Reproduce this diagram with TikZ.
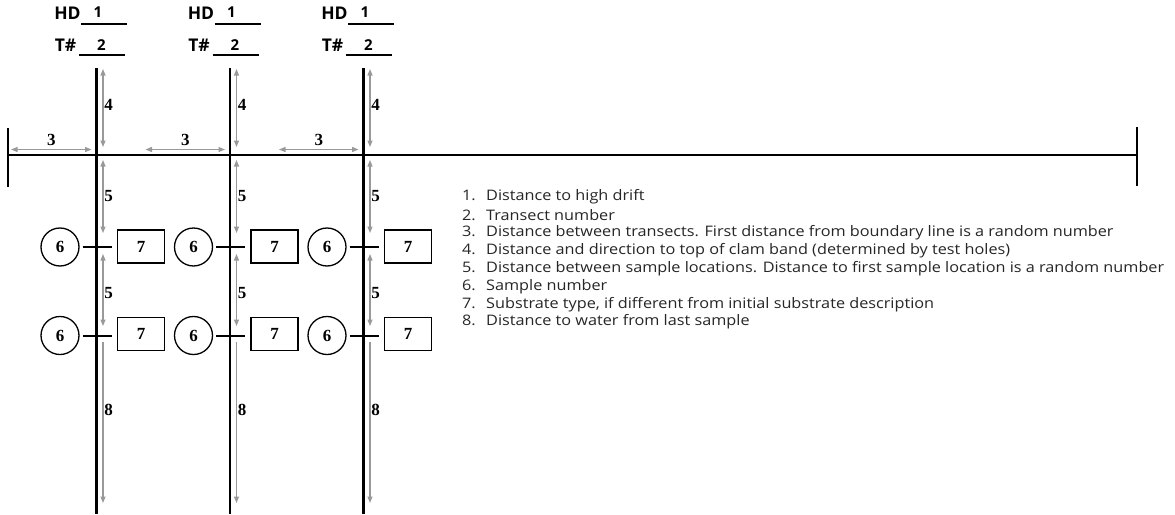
\documentclass[tikz,border=0pt]{standalone}
\usepackage{fontspec}
\setmainfont{Liberation Serif}
\newfontfamily\legendfont{Open Sans}[FakeStretch=1.12]
\newfontfamily\headfont{Open Sans}
\usetikzlibrary{arrows.meta,calc}

\tikzset{
  transect/.style={line width=2.4pt, black},
  baseline/.style={line width=2pt, black},
  dimline/.style={draw=black!40, line width=1.2pt},
  twoway/.style={dimline, {Triangle[width=5pt,length=6.5pt]}-{Triangle[width=5pt,length=6.5pt]}},
  oneway/.style={dimline, -{Triangle[width=5pt,length=6.5pt]}},
  numlbl/.style={inner sep=0pt, font=\bfseries\fontsize{17}{17}\selectfont},
  headlbl/.style={inner sep=0pt, font=\headfont\bfseries\fontsize{17.5}{17.5}\selectfont},
  headnum/.style={inner sep=0pt, font=\headfont\bfseries\fontsize{15}{15}\selectfont},
  blank/.style={line width=1.2pt},
  tick/.style={line width=2pt},
  sample/.style={circle, draw, line width=1.3pt, minimum size=38pt, inner sep=0pt,
                 font=\bfseries\fontsize{17}{17}\selectfont},
  substrate/.style={rectangle, draw, line width=1.3pt, minimum width=47pt, minimum height=33pt,
                    inner sep=0pt, font=\bfseries\fontsize{17}{17}\selectfont},
  legend/.style={anchor=west, inner sep=0pt, font=\legendfont\fontsize{14.5}{14.5}\selectfont,
                 text=black!85},
}

\begin{document}
\begin{tikzpicture}[x=1pt,y=-1pt]
\useasboundingbox (0,0) rectangle (1175,514);

% boundary line with its end marks
\coordinate (bl) at (8,155);
\coordinate (br) at (1137,155);
\coordinate (blt) at (8,128);
\coordinate (blb) at (8,187);
\coordinate (brt) at (1137,127);
\coordinate (brb) at (1137,186);
\draw[baseline] (bl) -- (br);
\draw[baseline] (blt) -- (blb);
\draw[baseline] (brt) -- (brb);

% transects (\p: position of the previous transect or boundary reference)
\foreach \i/\x/\p in {1/96.5/-38, 2/230/96.5, 3/363.5/230}{
  % header: high drift and transect number
  \node[headlbl] (hd\i) at (\x-29,13.5) {HD};
  \coordinate (hdl\i) at (\x-15.5,24);
  \coordinate (hdr\i) at (\x+30.5,24);
  \draw[blank] (hdl\i) -- (hdr\i);
  \node[headnum] (hdv\i) at (\x+1.5,12.5) {1};
  \node[headlbl] (tn\i) at (\x-31,45.5) {T\#};
  \coordinate (tnl\i) at (\x-17.5,55);
  \coordinate (tnr\i) at (\x+28.5,55);
  \draw[blank] (tnl\i) -- (tnr\i);
  \node[headnum] (tnv\i) at (\x+5,45) {2};

  % transect line
  \coordinate (top\i) at (\x,68);
  \coordinate (bot\i) at (\x,514);
  \draw[transect] (top\i) -- (bot\i);

  % distance between transects
  \coordinate (da\i) at (\p+49,149.5);
  \coordinate (db\i) at (\x-5,149.5);
  \draw[twoway] (da\i) -- (db\i);
  \node[numlbl] (l3\i) at ($(da\i)!0.5!(db\i)+(0,-9.5)$) {3};

  % distance to clam band
  \coordinate (a4\i) at (\x+6.5,69);
  \coordinate (b4\i) at (\x+6.5,147);
  \draw[twoway] (a4\i) -- (b4\i);
  \node[numlbl] (l4\i) at (\x+12,105) {4};

  % first sample location
  \coordinate (a5\i) at (\x+6.5,160);
  \coordinate (b5\i) at (\x+6.5,233);
  \draw[twoway] (a5\i) -- (b5\i);
  \node[numlbl] (l5\i) at (\x+12,196) {5};

  \node[sample] (s1\i) at (\x-36.5,247) {6};
  \node[substrate] (r1\i) at (\x+44.5,246.5) {7};
  \coordinate (k1l\i) at (\x-14,247);
  \coordinate (k1r\i) at (\x+15,247);
  \draw[tick] (k1l\i) -- (k1r\i);

  % second sample location
  \coordinate (c5\i) at (\x+6.5,254);
  \coordinate (d5\i) at (\x+6.5,326);
  \draw[twoway] (c5\i) -- (d5\i);
  \node[numlbl] (m5\i) at (\x+12,293) {5};

  \node[sample] (s2\i) at (\x-36.5,335.5) {6};
  \node[substrate] (r2\i) at (\x+44.5,334) {7};
  \coordinate (k2l\i) at (\x-14,335.5);
  \coordinate (k2r\i) at (\x+15,335.5);
  \draw[tick] (k2l\i) -- (k2r\i);

  % distance to water
  \coordinate (a8\i) at (\x+6.5,342);
  \coordinate (b8\i) at (\x+6.5,503);
  \draw[oneway] (a8\i) -- (b8\i);
  \node[numlbl] (l8\i) at (\x+12,410) {8};
}

% legend
\node[legend] (leg1) at (462,197) {\makebox[24pt][l]{1.}Distance to high drift};
\node[legend] (leg2) at (462,215) {\makebox[24pt][l]{2.}Transect number};
\node[legend] (leg3) at (462,233) {\makebox[24pt][l]{3.}Distance between transects. First distance from boundary line is a random number};
\node[legend] (leg4) at (462,251) {\makebox[24pt][l]{4.}Distance and direction to top of clam band (determined by test holes)};
\node[legend] (leg5) at (462,269) {\makebox[24pt][l]{5.}Distance between sample locations. Distance to first sample location is a random number};
\node[legend] (leg6) at (462,287) {\makebox[24pt][l]{6.}Sample number};
\node[legend] (leg7) at (462,304.5) {\makebox[24pt][l]{7.}Substrate type, if different from initial substrate description};
\node[legend] (leg8) at (462,322) {\makebox[24pt][l]{8.}Distance to water from last sample};
\end{tikzpicture}
\end{document}
